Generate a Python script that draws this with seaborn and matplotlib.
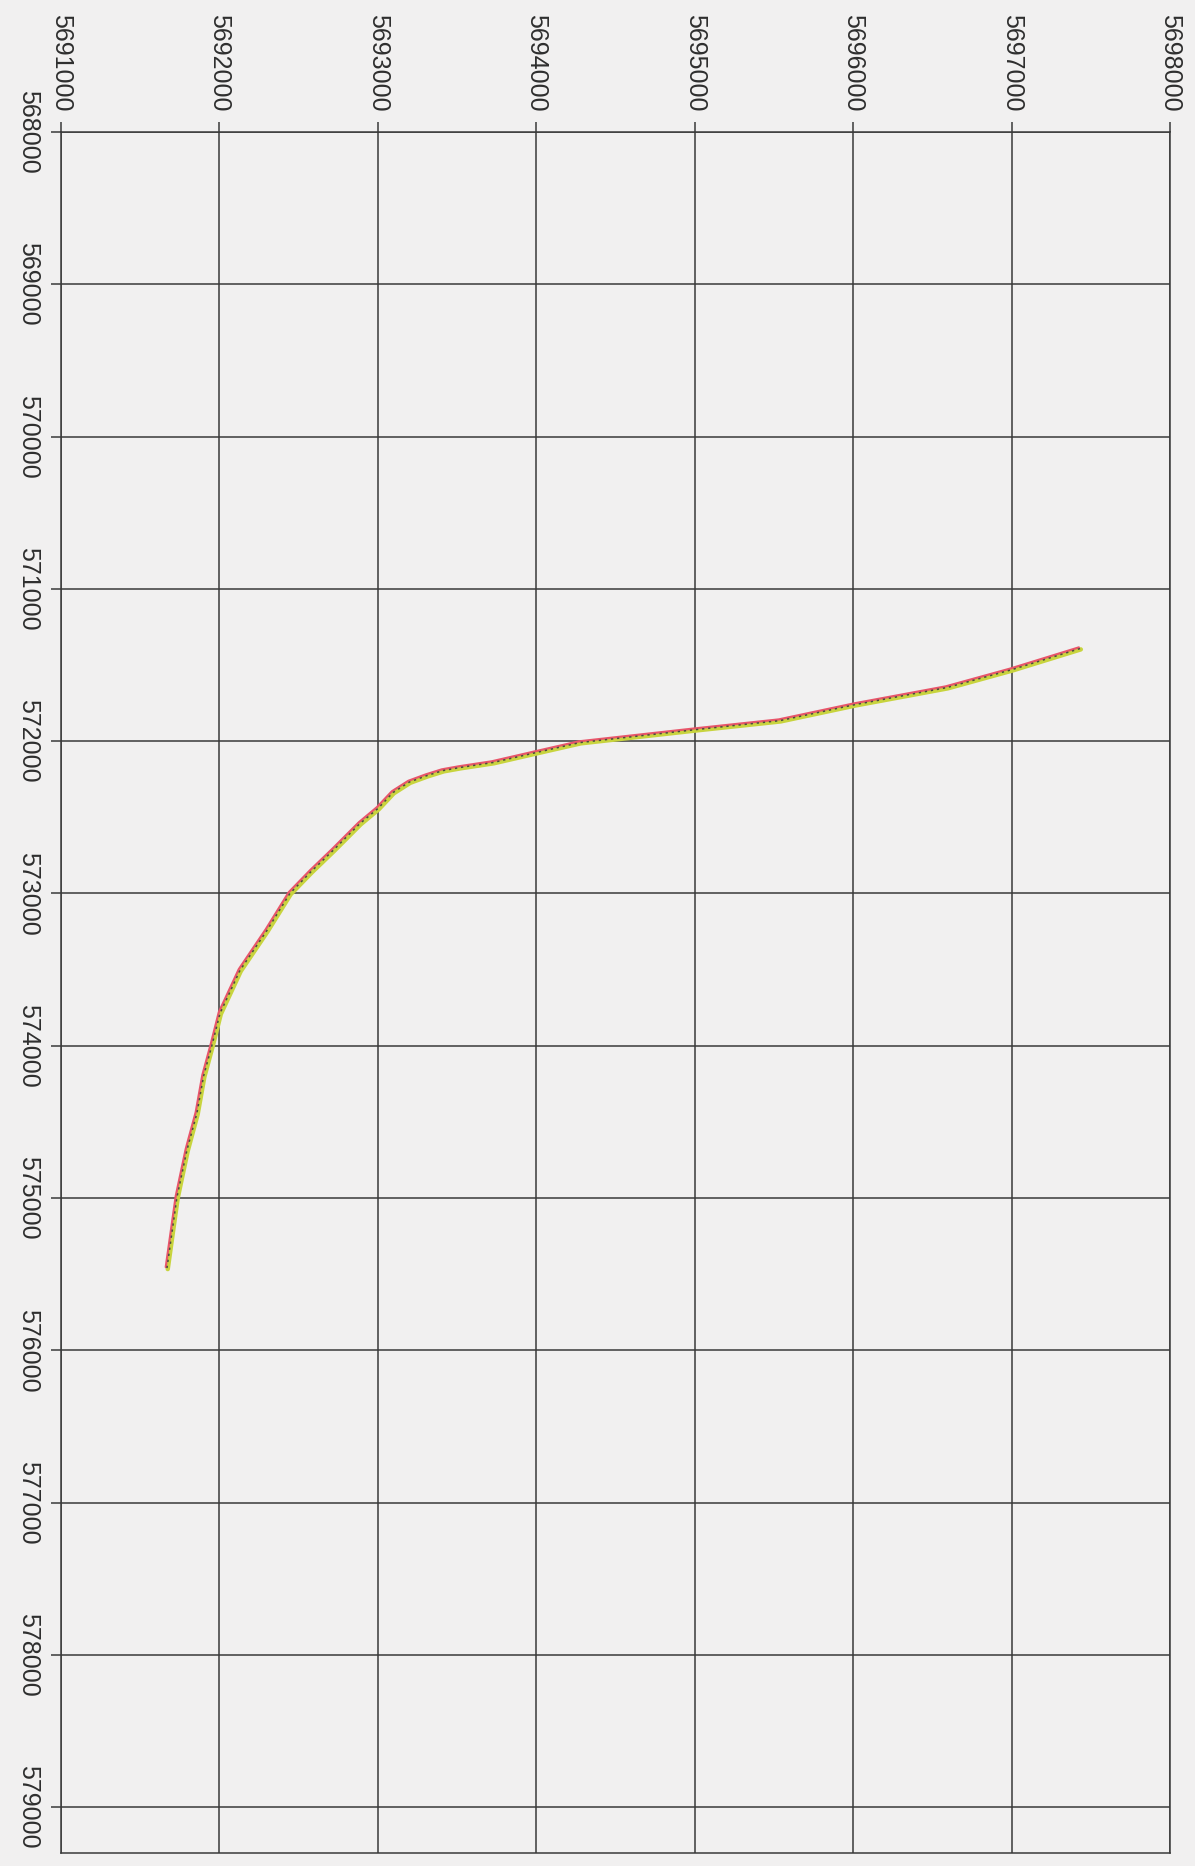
import matplotlib
matplotlib.use("Agg")
import matplotlib.pyplot as plt
import matplotlib.transforms as mtransforms
import numpy as np
import pandas as pd
import seaborn as sns

# ---- data ----
northing = [5697432, 5697003, 5696592, 5696012, 5695538, 5695008, 5694276,
            5693998, 5693727, 5693518, 5693411, 5693310, 5693200, 5693096,
            5693001, 5692887, 5692717, 5692580, 5692445, 5692300, 5692130,
            5692004, 5691953, 5691900, 5691858, 5691795, 5691732, 5691669]
easting = [571392, 571530, 571648, 571760, 571865, 571924, 572009,
           572075, 572140, 572173, 572193, 572226, 572268, 572337,
           572442, 572541, 572718, 572855, 573000, 573243, 573505,
           573787, 573997, 574200, 574444, 574686, 574995, 575461]
x_ticks = list(range(5691000, 5698001, 1000))
y_ticks = list(range(568000, 579001, 1000))
series_names = ["track 1", "track 2", "track 3"]
series_colors = ["#c8d43e", "#e8566a", "#4a4a40"]

df = pd.concat([pd.DataFrame({"northing": northing, "easting": easting, "series": s})
                for s in series_names], ignore_index=True)

bg = "#f1f0f0"
grid_c = "#3a3a3a"
text_c = "#2e2e2e"

sns.set_theme(style="white")
plt.rcParams['font.family'] = ['Liberation Sans', 'DejaVu Sans']

fig = plt.figure(figsize=(11.95, 18.66), dpi=100, facecolor=bg)
ax = fig.add_axes([0.0510, 0.00697, 0.9281, 0.9223])
ax.set_facecolor(bg)

styles = {"track 1": dict(lw=3.2, ls="-"),
          "track 2": dict(lw=1.6, ls="-"),
          "track 3": dict(lw=1.1, ls=(0, (1.5, 2.5)))}
for name, col in zip(series_names, series_colors):
    sub = df[df["series"] == name]
    sns.lineplot(data=sub, x="northing", y="easting", sort=False, estimator=None,
                 color=col, ax=ax, legend=False, **styles[name])

# small visual offsets so the overlapping tracks show as in the scan
lines = ax.get_lines()
offs = [(0.008, -0.008), (-0.012, 0.012), (0.0, 0.0)]
for ln, (dx, dy) in zip(lines, offs):
    ln.set_transform(ax.transData + mtransforms.ScaledTranslation(dx, dy, fig.dpi_scale_trans))
    ln.set_solid_joinstyle("round")

ax.set_xlim(5691000, 5698000)
ax.set_ylim(579300, 568000)

ax.set_xticks(x_ticks, labels=[str(v) for v in x_ticks], rotation=-90)
ax.set_yticks(y_ticks, labels=[str(v) for v in y_ticks], rotation=-90, va="center")
ax.xaxis.tick_top()
ax.tick_params(axis="x", top=True, bottom=False, labeltop=True, labelbottom=False,
               length=7, width=1.1, color=grid_c, pad=8, labelsize=18, labelcolor=text_c)
ax.tick_params(axis="y", left=True, right=False, length=7, width=1.1, color=grid_c,
               pad=8, labelsize=18, labelcolor=text_c)
ax.set_xlabel("")
ax.set_ylabel("")

ax.grid(True, color=grid_c, lw=1.1)
ax.set_axisbelow(True)
for sp in ax.spines.values():
    sp.set_visible(True)
    sp.set_color(grid_c)
    sp.set_linewidth(1.1)

fig.savefig("out.png", dpi=100, facecolor=bg)
